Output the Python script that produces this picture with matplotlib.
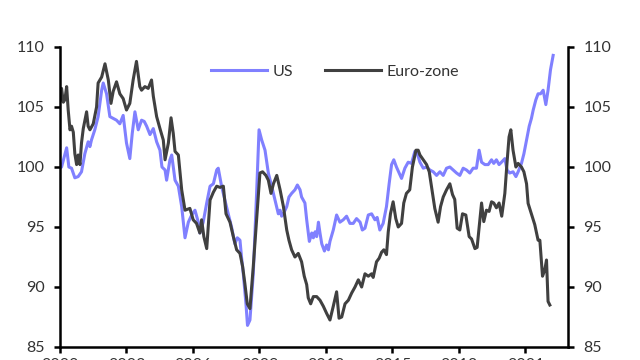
import matplotlib
matplotlib.use("Agg")
import matplotlib.pyplot as plt

plt.rcParams['font.family'] = ['Lato', 'DejaVu Sans']

us_years = [2000.0, 2000.07, 2000.30, 2000.40, 2000.52, 2000.67, 2000.82, 2000.97, 2001.12, 2001.27,
            2001.35, 2001.42, 2001.57, 2001.72, 2001.88, 2001.95, 2002.10, 2002.25, 2002.40, 2002.55,
            2002.70, 2002.85, 2003.00, 2003.15, 2003.26, 2003.38, 2003.53, 2003.68, 2003.80, 2003.91,
            2004.06, 2004.21, 2004.36, 2004.51, 2004.60, 2004.74, 2004.81, 2004.96, 2005.04, 2005.19,
            2005.34, 2005.49, 2005.64, 2005.79, 2005.94, 2006.09, 2006.24, 2006.31, 2006.46, 2006.62,
            2006.77, 2006.92, 2007.07, 2007.14, 2007.29, 2007.44, 2007.59, 2007.74, 2007.89, 2008.00,
            2008.12, 2008.19, 2008.27, 2008.39, 2008.46, 2008.57, 2008.72, 2008.87, 2008.98, 2009.10,
            2009.25, 2009.40, 2009.55, 2009.70, 2009.85, 2009.93, 2010.00, 2010.08, 2010.23, 2010.33,
            2010.45, 2010.60, 2010.71, 2010.83, 2010.90, 2011.05, 2011.13, 2011.25, 2011.36, 2011.43,
            2011.51, 2011.58, 2011.66, 2011.73, 2011.81, 2011.93, 2012.03, 2012.11, 2012.18, 2012.33,
            2012.48, 2012.63, 2012.78, 2012.93, 2013.08, 2013.23, 2013.38, 2013.54, 2013.64, 2013.76,
            2013.91, 2014.06, 2014.21, 2014.31, 2014.43, 2014.58, 2014.73, 2014.85, 2014.96, 2015.06,
            2015.18, 2015.30, 2015.41, 2015.56, 2015.71, 2015.86, 2016.01, 2016.12, 2016.24, 2016.39,
            2016.54, 2016.69, 2016.84, 2016.99, 2017.14, 2017.29, 2017.44, 2017.59, 2017.74, 2017.89,
            2018.04, 2018.19, 2018.34, 2018.49, 2018.64, 2018.79, 2018.91, 2019.02, 2019.17, 2019.32,
            2019.47, 2019.57, 2019.69, 2019.81, 2019.92, 2020.07, 2020.17, 2020.29, 2020.44, 2020.57,
            2020.67, 2020.82, 2020.93, 2021.05, 2021.17, 2021.27, 2021.35, 2021.47, 2021.57, 2021.68,
            2021.80, 2021.92, 2022.02, 2022.13, 2022.25]
us_values = [99.9, 100.0, 101.6, 100.0, 99.9, 99.1, 99.2, 99.6, 101.1, 102.1,
             101.7, 102.25, 103.1, 104.2, 106.4, 107.0, 106.1, 104.2, 104.05, 103.9,
             103.6, 104.3, 102.0, 100.7, 102.8, 104.6, 103.1, 103.9, 103.8, 103.4,
             102.7, 103.2, 102.1, 101.4, 100.0, 99.75, 98.9, 100.6, 101.0, 98.9,
             98.4, 96.7, 94.1, 95.4, 96.0, 96.4, 95.4, 94.5, 95.4, 97.0,
             98.4, 98.6, 99.75, 99.9, 98.4, 97.25, 96.1, 95.0, 93.6, 94.1,
             93.9, 92.5, 91.1, 88.6, 86.8, 87.25, 91.1, 97.8, 103.1, 102.25,
             101.4, 99.5, 98.4, 97.25, 96.1, 96.4, 95.9, 96.1, 96.7, 97.5,
             97.8, 98.1, 98.5, 98.1, 97.5, 97.0, 95.6, 93.8, 94.5, 94.1,
             94.6, 94.2, 95.4, 94.5, 93.6, 93.0, 93.5, 93.1, 93.8, 94.75,
             96.0, 95.4, 95.6, 95.9, 95.3, 95.3, 95.7, 95.4, 94.75, 94.9,
             96.0, 96.1, 95.6, 95.8, 94.75, 95.3, 96.7, 98.6, 100.2, 100.6,
             100.0, 99.5, 99.05, 99.9, 100.4, 100.3, 101.3, 101.1, 100.4, 99.9,
             100.0, 99.75, 99.6, 99.3, 99.6, 99.3, 99.9, 100.0, 99.75, 99.5,
             99.3, 99.9, 99.75, 99.5, 99.9, 99.9, 101.4, 100.4, 100.2, 100.2,
             100.6, 100.3, 100.6, 100.2, 100.4, 100.7, 99.75, 99.5, 99.6, 99.2,
             99.6, 100.3, 101.1, 102.25, 103.4, 104.05, 104.75, 105.6, 106.1, 106.1,
             106.4, 105.2, 106.4, 108.1, 109.3]

ez_years = [2000.0, 2000.07, 2000.15, 2000.22, 2000.30, 2000.37, 2000.45, 2000.52, 2000.60, 2000.67,
            2000.75, 2000.82, 2000.90, 2000.97, 2001.05, 2001.20, 2001.27, 2001.35, 2001.50, 2001.65,
            2001.72, 2001.88, 2002.03, 2002.18, 2002.30, 2002.40, 2002.55, 2002.70, 2002.85, 2003.00,
            2003.15, 2003.30, 2003.45, 2003.60, 2003.68, 2003.83, 2003.98, 2004.13, 2004.21, 2004.36,
            2004.51, 2004.66, 2004.74, 2004.89, 2005.01, 2005.11, 2005.19, 2005.34, 2005.49, 2005.64,
            2005.86, 2006.01, 2006.16, 2006.31, 2006.39, 2006.49, 2006.62, 2006.77, 2006.92, 2007.07,
            2007.22, 2007.37, 2007.49, 2007.67, 2007.82, 2007.97, 2008.12, 2008.24, 2008.34, 2008.45,
            2008.57, 2008.72, 2008.87, 2009.02, 2009.14, 2009.29, 2009.40, 2009.52, 2009.63, 2009.78,
            2009.93, 2010.08, 2010.23, 2010.33, 2010.45, 2010.60, 2010.75, 2010.90, 2011.02, 2011.13,
            2011.20, 2011.31, 2011.43, 2011.58, 2011.73, 2011.88, 2012.03, 2012.18, 2012.33, 2012.48,
            2012.59, 2012.71, 2012.86, 2013.01, 2013.16, 2013.31, 2013.46, 2013.61, 2013.76, 2013.91,
            2014.06, 2014.13, 2014.28, 2014.40, 2014.51, 2014.61, 2014.73, 2014.81, 2014.91, 2015.03,
            2015.15, 2015.26, 2015.41, 2015.51, 2015.63, 2015.78, 2015.90, 2016.06, 2016.16, 2016.24,
            2016.39, 2016.54, 2016.66, 2016.76, 2016.91, 2017.06, 2017.17, 2017.29, 2017.44, 2017.59,
            2017.71, 2017.81, 2017.92, 2018.04, 2018.16, 2018.31, 2018.46, 2018.57, 2018.72, 2018.82,
            2018.91, 2019.02, 2019.12, 2019.24, 2019.36, 2019.47, 2019.57, 2019.69, 2019.81, 2019.93,
            2020.07, 2020.17, 2020.26, 2020.34, 2020.44, 2020.57, 2020.67, 2020.82, 2020.93, 2021.05,
            2021.12, 2021.27, 2021.42, 2021.57, 2021.65, 2021.77, 2021.87, 2021.95, 2022.02, 2022.10]
ez_values = [105.5, 106.55, 105.4, 105.6, 106.7, 104.75, 103.1, 103.4, 102.9, 101.1,
             100.2, 101.0, 100.2, 102.0, 103.2, 104.6, 103.4, 103.1, 103.6, 105.0,
             107.0, 107.5, 108.6, 107.25, 105.3, 106.3, 107.1, 106.1, 105.7, 104.75,
             105.3, 107.25, 108.8, 106.7, 106.4, 106.7, 106.55, 107.25, 105.9, 104.2,
             103.2, 102.25, 100.6, 102.0, 104.1, 102.8, 101.3, 101.0, 98.1, 96.4,
             96.55, 95.6, 95.3, 94.5, 95.6, 94.2, 93.2, 97.25, 97.9, 98.4,
             98.3, 98.4, 96.1, 95.4, 94.2, 93.1, 92.8, 91.7, 90.3, 88.6,
             88.2, 91.7, 95.6, 99.5, 99.6, 99.3, 98.9, 97.8, 98.6, 99.3,
             98.1, 96.7, 94.75, 93.9, 93.1, 92.5, 92.8, 92.1, 90.9, 90.2,
             89.1, 88.6, 89.2, 89.2, 88.9, 88.4, 87.8, 87.25, 88.4, 89.6,
             87.4, 87.5, 88.6, 88.9, 89.5, 90.0, 90.6, 90.0, 91.1, 90.9,
             91.1, 90.8, 92.1, 92.4, 92.9, 93.1, 92.7, 94.6, 96.1, 97.1,
             95.7, 95.0, 95.3, 97.0, 97.8, 98.1, 100.0, 101.4, 101.4, 101.0,
             100.6, 100.2, 99.6, 98.4, 96.55, 95.4, 96.7, 97.5, 98.1, 98.6,
             97.7, 97.3, 94.9, 94.75, 96.1, 96.0, 94.2, 94.0, 93.2, 93.3,
             95.0, 97.0, 95.45, 96.4, 96.3, 97.1, 97.0, 96.6, 97.0, 95.9,
             97.8, 100.4, 102.5, 103.1, 101.4, 100.0, 100.3, 100.0, 99.6, 98.6,
             96.97, 96.1, 95.2, 93.9, 93.9, 90.9, 91.4, 92.25, 88.8, 88.5]

x_ticks = [2000, 2003, 2006, 2009, 2012, 2015, 2018, 2021]
y_ticks = [85, 90, 95, 100, 105, 110]

US_COLOR = '#8080FF'
EZ_COLOR = '#404040'
TEXT_COLOR = '#333333'

fig = plt.figure(figsize=(6.4, 3.6), dpi=100)
ax = fig.add_axes([60/640, 1 - 347/360, 508/640, 300/360])

ax.plot(us_years, us_values, color=US_COLOR, lw=2.2, label='US', solid_joinstyle='round')
ax.plot(ez_years, ez_values, color=EZ_COLOR, lw=2.2, label='Euro-zone', solid_joinstyle='round')

ax.set_xlim(2000, 2022.92)
ax.set_ylim(85, 110)
ax.set_xticks(x_ticks)
ax.set_xticklabels([str(t) for t in x_ticks])
ax.set_yticks(y_ticks)

for side in ['left', 'right', 'bottom']:
    ax.spines[side].set_linewidth(1.8)
    ax.spines[side].set_color('black')
ax.spines['top'].set_visible(False)

ax.tick_params(axis='y', which='both', direction='out', length=4, width=1.8,
               left=True, right=True, labelleft=True, labelright=True,
               labelsize=11.5, labelcolor=TEXT_COLOR, pad=7)
ax.tick_params(axis='x', direction='out', length=4, width=1.8,
               labelsize=11.5, labelcolor=TEXT_COLOR, pad=4)

leg = ax.legend(loc='center', bbox_to_anchor=(0.542, 0.918), ncol=2, frameon=False,
                fontsize=11.5, handlelength=3.5, handletextpad=0.35, columnspacing=2.0,
                borderaxespad=0)
for t in leg.get_texts():
    t.set_color(TEXT_COLOR)

fig.savefig('out.png', dpi=100)
